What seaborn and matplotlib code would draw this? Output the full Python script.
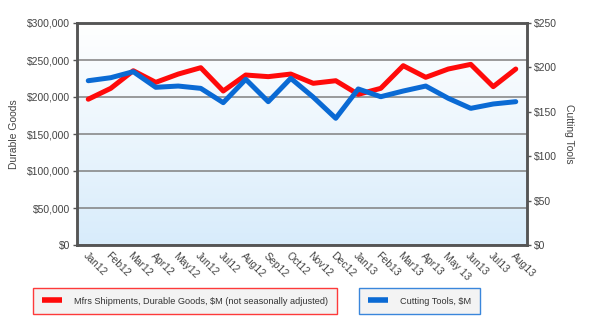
import numpy as np
import pandas as pd
import matplotlib
matplotlib.use("Agg")
import matplotlib.pyplot as plt
import seaborn as sns
from matplotlib.lines import Line2D

months = ["Jan12", "Feb12", "Mar12", "Apr12", "May12", "Jun12", "Jul12", "Aug12",
          "Sep12", "Oct12", "Nov12", "Dec12", "Jan13", "Feb13", "Mar13", "Apr13",
          "May 13", "Jun13", "Jul13", "Aug13"]
durable_goods = [197000, 211700, 235500, 219800, 231000, 239600, 208100, 229700,
                 227500, 231000, 218500, 222000, 203600, 211700, 242300, 226600,
                 237800, 244100, 214000, 237800]
cutting_tools = [185.0, 188.4, 195.2, 177.6, 179.0, 176.4, 160.3, 186.6,
                 161.4, 187.7, 166.5, 142.7, 175.7, 167.0, 173.4, 179.0,
                 165.2, 153.9, 158.8, 161.4]
left_ticks = [0, 50000, 100000, 150000, 200000, 250000, 300000]
right_ticks = [0, 50, 100, 150, 200, 250]

df = pd.DataFrame({"idx": np.arange(len(months)), "month": months,
                   "durable": durable_goods, "tools": cutting_tools})

sns.set_theme(style="white")
plt.rcParams["font.family"] = ["Liberation Sans", "DejaVu Sans"]

RED = "#ff0a0a"
BLUE = "#0a6ad4"
SPINE = "#555555"
TXT = "#444444"

fig = plt.figure(figsize=(5.95, 3.35), dpi=100)
ax = fig.add_axes([77/595, 1-245/335, (527-77)/595, (245-23)/335])

# gradient background
grad = np.linspace(0, 1, 256).reshape(-1, 1)
top = np.array([1.0, 1.0, 1.0])
bot = np.array([0xd8, 0xec, 0xfb]) / 255
img = (top[None, None, :] * (1 - grad[:, :, None]) + bot[None, None, :] * grad[:, :, None])
ax.imshow(img, extent=[0, 1, 0, 1], transform=ax.transAxes, aspect="auto", zorder=0)

sns.lineplot(data=df, x="idx", y="durable", ax=ax, color=RED, lw=3.6, zorder=4)
ax.set_xlim(-0.5, len(months) - 0.5)
ax.set_ylim(0, 300000)
ax.set_yticks(left_ticks)
ax.set_yticklabels([f"${v:,}" for v in left_ticks], fontsize=7.5, color=TXT)
ax.yaxis.grid(True, color="#808080", lw=1.1, zorder=1)
ax.set_axisbelow(True)
ax.set_xticks(df["idx"])
ax.set_xticklabels(months, rotation=-45, ha="left", va="top",
                   rotation_mode="anchor", fontsize=7.5, color=TXT)
ax.tick_params(axis="x", length=0, pad=4)
ax.tick_params(axis="y", length=3, width=1, color=SPINE, pad=2, left=True)
ax.set_xlabel("")
ax.set_ylabel("Durable Goods", fontsize=7.5, color=TXT, labelpad=6)

ax2 = ax.twinx()
sns.lineplot(data=df, x="idx", y="tools", ax=ax2, color=BLUE, lw=3.6, zorder=3)
ax2.set_ylim(0, 250)
ax2.set_yticks(right_ticks)
ax2.set_yticklabels([f"${v}" for v in right_ticks], fontsize=7.5, color=TXT)
ax2.tick_params(axis="y", length=3, width=1, color=SPINE, pad=2, right=True)
ax2.set_ylabel("Cutting Tools", fontsize=7.5, color=TXT, rotation=-90, labelpad=12)
ax2.set_xlim(-0.5, len(months) - 0.5)
ax2.grid(False)

for a in (ax, ax2):
    for s in a.spines.values():
        s.set_color(SPINE)
        s.set_linewidth(1.8)

h1 = [Line2D([0], [0], color=RED, lw=4, solid_capstyle="butt")]
h2 = [Line2D([0], [0], color=BLUE, lw=4, solid_capstyle="butt")]
common = dict(loc="center", fontsize=6.6, frameon=True, fancybox=False,
              handlelength=2.2, borderpad=0.95, handletextpad=1.3,
              borderaxespad=0)
leg1 = fig.legend(h1, ["Mfrs Shipments, Durable Goods, $M (not seasonally adjusted)"],
                  bbox_to_anchor=(185/595, 1-301/335), **common)
leg1.get_frame().set_edgecolor(RED)
leg1.get_frame().set_facecolor("#f1f1f1")
leg1.get_frame().set_linewidth(1.0)
leg2 = fig.legend(h2, ["Cutting Tools, $M"],
                  bbox_to_anchor=(419.5/595, 1-301/335), **common)
leg2.get_frame().set_edgecolor(BLUE)
leg2.get_frame().set_facecolor("#f1f1f1")
leg2.get_frame().set_linewidth(1.0)
for leg in (leg1, leg2):
    for t in leg.get_texts():
        t.set_color("#333333")

fig.savefig("out.png", dpi=100, facecolor="white")
